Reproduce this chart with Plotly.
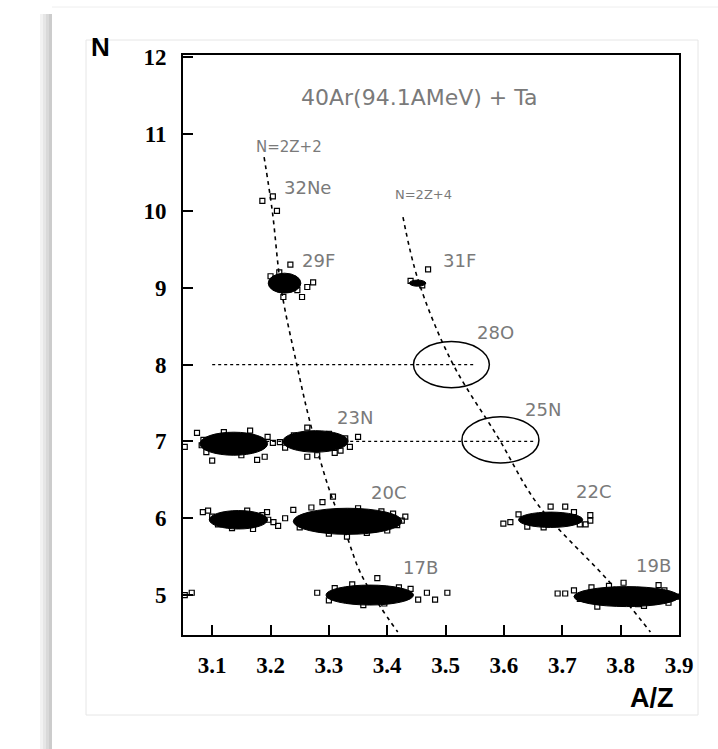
import plotly.graph_objects as go

# ---------------- data ----------------
# isotope clusters: centre A/Z, centre Z, half spread in A/Z, half spread in Z
cluster_names = ["A7", "23N", "C6", "20C", "17B", "22C", "19B", "29F", "31F"]
cluster_az = [3.137, 3.277, 3.145, 3.332, 3.370, 3.680, 3.810, 3.224, 3.452]
cluster_z = [6.97, 7.00, 5.98, 5.96, 5.00, 5.98, 4.98, 9.06, 9.06]
cluster_daz = [0.058, 0.056, 0.050, 0.093, 0.075, 0.055, 0.090, 0.028, 0.014]
cluster_dz = [0.15, 0.14, 0.12, 0.17, 0.13, 0.10, 0.13, 0.13, 0.04]

# isolated events (open squares)
event_az = [3.100, 3.053, 3.177, 3.190, 3.074, 3.204, 3.085, 3.165, 3.120, 3.090, 3.150, 3.195, 3.082,
            3.263, 3.350, 3.336, 3.263, 3.280, 3.216, 3.225, 3.300, 3.320, 3.240, 3.310, 3.328,
            3.084, 3.093, 3.213, 3.196, 3.134, 3.194, 3.205, 3.110, 3.170, 3.100, 3.186, 3.160,
            3.307, 3.289, 3.431, 3.417, 3.225, 3.239, 3.331, 3.365, 3.390, 3.250, 3.400, 3.270,
            3.410, 3.350, 3.300, 3.425,
            3.280, 3.383, 3.482, 3.468, 3.503, 3.359, 3.453, 3.300, 3.420, 3.053, 3.065, 3.310,
            3.440, 3.395, 3.340,
            3.599, 3.611, 3.748, 3.748, 3.705, 3.680, 3.668, 3.640, 3.730, 3.625, 3.720, 3.740,
            3.692, 3.705, 3.865, 3.882, 3.760, 3.805, 3.730, 3.840, 3.895, 3.780, 3.720, 3.875,
            3.750, 3.830,
            3.273, 3.263, 3.254, 3.222, 3.234, 3.246, 3.200, 3.215,
            3.470, 3.440, 3.460,
            3.186, 3.204, 3.211]
event_z = [6.75, 6.93, 6.76, 6.80, 7.11, 6.98, 7.02, 7.14, 7.12, 6.86, 6.82, 7.06, 6.95,
           7.18, 7.06, 6.93, 6.80, 6.82, 6.99, 6.92, 7.10, 6.88, 7.08, 6.85, 7.04,
           6.08, 6.10, 5.90, 5.98, 5.87, 6.08, 5.95, 5.92, 5.86, 6.02, 6.04, 6.10,
           6.28, 6.21, 6.02, 5.91, 6.00, 6.11, 5.76, 5.81, 6.09, 5.88, 5.84, 6.14,
           6.06, 6.13, 5.80, 5.97,
           5.03, 5.22, 4.94, 5.03, 5.03, 4.87, 4.94, 4.93, 5.10, 5.00, 5.03, 5.09,
           5.08, 4.89, 5.14,
           5.93, 5.95, 6.04, 5.97, 6.15, 6.15, 5.88, 5.89, 5.92, 6.05, 6.08, 5.92,
           5.02, 5.02, 5.13, 4.90, 4.85, 5.16, 4.95, 4.86, 4.98, 5.12, 5.06, 5.06,
           5.10, 4.88,
           9.07, 9.01, 8.88, 8.88, 9.30, 8.97, 9.15, 9.20,
           9.24, 9.09, 9.03,
           10.13, 10.19, 10.00]

# N = 2Z+2 and N = 2Z+4 guide lines (A/Z, Z)
line1_az = [3.189, 3.203, 3.218, 3.245, 3.268, 3.299, 3.331, 3.354, 3.388, 3.418]
line1_z = [10.70, 10.0, 9.0, 8.0, 7.24, 6.41, 5.76, 5.29, 4.85, 4.52]
line2_az = [3.427, 3.453, 3.511, 3.590, 3.659, 3.782, 3.851]
line2_z = [9.92, 9.10, 8.03, 7.05, 6.17, 5.16, 4.52]

# unobserved nuclei (ellipses) and dotted guide rows
missing_names = ["28O", "25N"]
missing_az = [3.510, 3.594]
missing_z = [8.00, 7.02]
missing_daz = [0.065, 0.066]
missing_dz = [0.30, 0.30]
dotted_z = [8, 7]
dotted_from = [3.10, 3.10]
dotted_to = [3.55, 3.655]

# text labels
label_text = ["32Ne", "29F", "31F", "28O", "25N", "23N", "20C", "17B", "22C", "19B"]
label_az = [3.264, 3.282, 3.523, 3.585, 3.667, 3.345, 3.403, 3.457, 3.753, 3.856]
label_z = [10.31, 9.36, 9.36, 8.42, 7.42, 7.31, 6.34, 5.36, 6.35, 5.38]

x_ticks = [3.1, 3.2, 3.3, 3.4, 3.5, 3.6, 3.7, 3.8, 3.9]
y_ticks = [5, 6, 7, 8, 9, 10, 11, 12]

# ---------------- figure ----------------
L, R, T, B = 183, 39, 55, 114
W, H = 718, 749
pw, ph = W - L - R, H - T - B


def px(xp):
    return (xp - L) / pw


def py(yp):
    return (H - B - yp) / ph


fig = go.Figure()
grey = "#7a7a7a"

for zz, a0, a1 in zip(dotted_z, dotted_from, dotted_to):
    fig.add_trace(go.Scatter(x=[a0, a1], y=[zz, zz], mode="lines",
                             line=dict(color="black", width=1.2, dash="dot"),
                             hoverinfo="skip", showlegend=False))

fig.add_trace(go.Scatter(x=line1_az, y=line1_z, mode="lines",
                         line=dict(color="black", width=1.6, dash="4px,4px"),
                         line_shape="spline", showlegend=False))
fig.add_trace(go.Scatter(x=line2_az, y=line2_z, mode="lines",
                         line=dict(color="black", width=1.6, dash="4px,4px"),
                         line_shape="spline", showlegend=False))

fig.add_trace(go.Scatter(x=event_az, y=event_z, mode="markers",
                         marker=dict(symbol="square-open", size=5, color="black",
                                     line=dict(width=1.2, color="black")),
                         showlegend=False))

shapes = []
for cx, cz, dx, dz in zip(cluster_az, cluster_z, cluster_daz, cluster_dz):
    shapes.append(dict(type="circle", xref="x", yref="y", layer="above",
                       x0=cx - dx, x1=cx + dx, y0=cz - dz, y1=cz + dz,
                       fillcolor="black", line=dict(color="black", width=1)))
for cx, cz, dx, dz in zip(missing_az, missing_z, missing_daz, missing_dz):
    shapes.append(dict(type="circle", xref="x", yref="y",
                       x0=cx - dx, x1=cx + dx, y0=cz - dz, y1=cz + dz,
                       line=dict(color="black", width=1.5)))

# page decorations (card shadow and thin frame)
shadow = [(40, 43, "#f2f2f2"), (43, 46, "#e6e6e6"), (46, 49, "#d9d9d9"), (49, 52, "#cccccc")]
for a, b, c in shadow:
    shapes.append(dict(type="rect", xref="paper", yref="paper", layer="below",
                       x0=px(a), x1=px(b), y0=py(749), y1=py(14),
                       fillcolor=c, line=dict(width=0)))
shapes.append(dict(type="line", xref="paper", yref="paper", layer="below",
                   x0=px(52), x1=px(718), y0=py(7), y1=py(7),
                   line=dict(color="#eeeeee", width=1)))
shapes.append(dict(type="rect", xref="paper", yref="paper", layer="below",
                   x0=px(86), x1=px(698), y0=py(715), y1=py(40),
                   line=dict(color="#e6e6e6", width=1)))
fig.update_layout(shapes=shapes)

ann = []
for t, a, z in zip(label_text, label_az, label_z):
    ann.append(dict(x=a, y=z, xref="x", yref="y", text=t, showarrow=False,
                    font=dict(family="DejaVu Sans", size=18, color=grey)))
ann.append(dict(x=3.455, y=11.48, xref="x", yref="y", text="40Ar(94.1AMeV) + Ta",
                showarrow=False, font=dict(family="DejaVu Sans", size=22, color=grey)))
ann.append(dict(x=3.232, y=10.83, xref="x", yref="y", text="N=2Z+2",
                showarrow=False, font=dict(family="DejaVu Sans", size=15, color=grey)))
ann.append(dict(x=3.462, y=10.21, xref="x", yref="y", text="N=2Z+4",
                showarrow=False, font=dict(family="DejaVu Sans", size=13, color=grey)))
ann.append(dict(x=px(100), y=py(47), xref="paper", yref="paper", text="<b>N</b>",
                xanchor="center", yanchor="middle",
                showarrow=False, font=dict(family="Liberation Sans", size=26, color="black")))
ann.append(dict(x=px(652), y=py(698), xref="paper", yref="paper", text="<b>A/Z</b>",
                xanchor="center", yanchor="middle",
                showarrow=False, font=dict(family="Liberation Sans", size=27, color="black")))
fig.update_layout(annotations=ann)

axis_common = dict(showgrid=False, zeroline=False, showline=True, mirror=True,
                   linecolor="black", linewidth=2, ticks="inside", ticklen=10,
                   tickwidth=1.5, tickcolor="black",
                   tickfont=dict(family="Liberation Serif", size=23, color="black"))
fig.update_xaxes(range=[3.05, 3.9], tickvals=x_ticks,
                 ticktext=[f"<b>{v:.1f}</b>" for v in x_ticks],
                 ticklabelstandoff=8, **axis_common)
fig.update_yaxes(range=[4.48, 12.03], tickvals=y_ticks,
                 ticktext=[f"<b>{v}</b>" for v in y_ticks],
                 ticklabelstandoff=10, **axis_common)

fig.update_layout(width=W, height=H, margin=dict(l=L, r=R, t=T, b=B),
                  paper_bgcolor="white", plot_bgcolor="white", showlegend=False)

fig.write_html("out.html")
